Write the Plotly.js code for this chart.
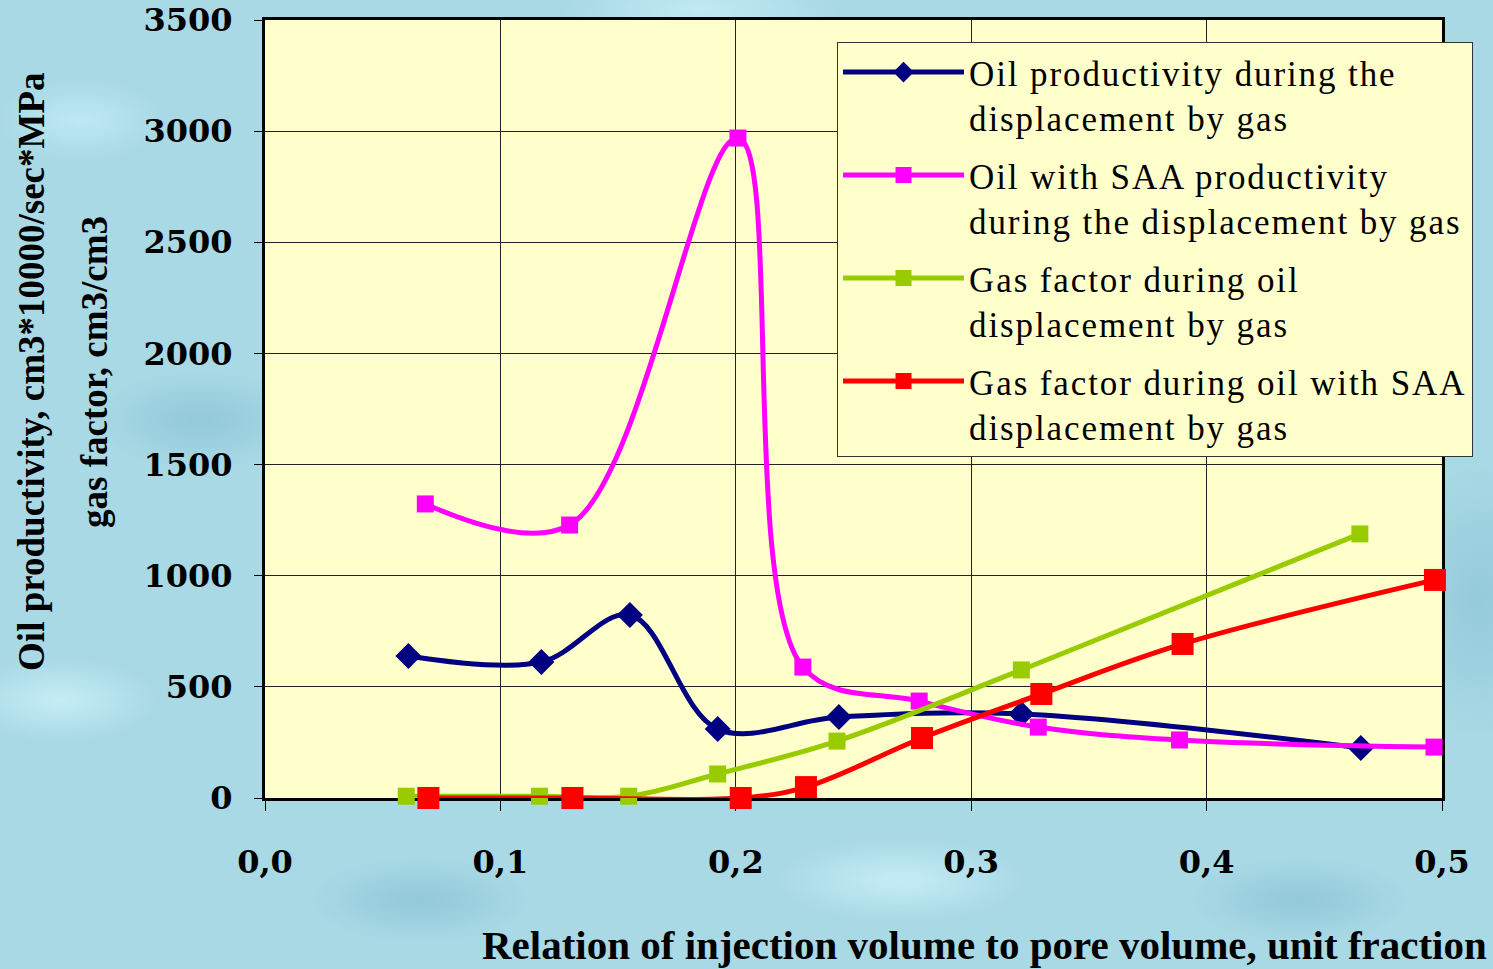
<!DOCTYPE html>
<html><head><meta charset="utf-8">
<script src="https://cdn.plot.ly/plotly-3.0.1.min.js"></script>
<style>
html,body{margin:0;padding:0;width:1493px;height:969px;overflow:hidden;}
body{
  background-color:#A8D9E5;
  background-image:
    radial-gradient(ellipse 120px 60px at 80px 120px, rgba(200,240,250,0.7), rgba(200,240,250,0) 70%),
    radial-gradient(ellipse 150px 70px at 200px 420px, rgba(120,180,200,0.45), rgba(120,180,200,0) 70%),
    radial-gradient(ellipse 140px 60px at 60px 700px, rgba(210,245,252,0.7), rgba(210,245,252,0) 70%),
    radial-gradient(ellipse 160px 60px at 420px 900px, rgba(120,180,200,0.45), rgba(120,180,200,0) 70%),
    radial-gradient(ellipse 180px 60px at 900px 880px, rgba(210,245,252,0.7), rgba(210,245,252,0) 70%),
    radial-gradient(ellipse 160px 60px at 1300px 900px, rgba(120,180,200,0.45), rgba(120,180,200,0) 70%),
    radial-gradient(ellipse 200px 60px at 700px 10px, rgba(210,245,252,0.6), rgba(210,245,252,0) 70%),
    radial-gradient(ellipse 120px 200px at 1480px 600px, rgba(120,180,200,0.4), rgba(120,180,200,0) 70%);
}
#chart{width:1493px;height:969px;}
text.legendtext{letter-spacing:1.9px;}
</style></head><body><div id="chart"></div>
<script>
// Oil productivity during the displacement by gas
const oilX = [0.0609, 0.1174, 0.1550, 0.1923, 0.2438, 0.3213, 0.4655];
const oilY = [639, 612, 823, 310, 364, 378, 225];
// Oil with SAA productivity during the displacement by gas
const saaX = [0.0681, 0.1294, 0.2009, 0.2285, 0.2779, 0.3285, 0.3885, 0.4966];
const saaY = [1323, 1228, 2969, 589, 436, 319, 261, 229];
// Gas factor during oil displacement by gas
const gasX = [0.0600, 0.1166, 0.1545, 0.1923, 0.2430, 0.3213, 0.4651];
const gasY = [8, 8, 8, 108, 256, 576, 1188];
// Gas factor during oil with SAA displacement by gas
const gasSaaX = [0.0694, 0.1306, 0.2021, 0.2298, 0.2791, 0.3298, 0.3898, 0.4970];
const gasSaaY = [0, 0, 0, 49, 270, 468, 693, 981];

const names = [
  'Oil productivity during the<br>displacement by gas',
  'Oil with SAA productivity<br>during the displacement by gas',
  'Gas factor during oil<br>displacement by gas',
  'Gas factor during oil with SAA<br>displacement by gas'
];
const xTickVals = [0, 0.1, 0.2, 0.3, 0.4, 0.5];
const xTickText = ['0,0', '0,1', '0,2', '0,3', '0,4', '0,5'];
const yTickVals = [0, 500, 1000, 1500, 2000, 2500, 3000, 3500];

function tr(x, y, name, color, symbol, size, grp) {
  return {
    x: x, y: y, name: name, type: 'scatter', mode: 'lines+markers',
    line: {color: color, width: 5, shape: 'spline', smoothing: 1},
    marker: {color: color, symbol: symbol, size: size},
    cliponaxis: false, legendgroup: grp
  };
}
const data = [
  tr(oilX, oilY, names[0], '#000080', 'diamond', 20, 'a'),
  tr(saaX, saaY, names[1], '#FF00FF', 'square', 17, 'b'),
  tr(gasX, gasY, names[2], '#99CC00', 'square', 17, 'c'),
  tr(gasSaaX, gasSaaY, names[3], '#FF0000', 'square', 22, 'd')
];

const tickFont = {family: 'DejaVu Serif', size: 32, color: '#000', weight: 'bold'};
const titleFont = {family: 'Liberation Serif', size: 37, color: '#000', weight: 'bold'};
const layout = {
  width: 1493, height: 969,
  paper_bgcolor: 'rgba(0,0,0,0)',
  plot_bgcolor: '#FFFFCC',
  margin: {l: 265, r: 51, t: 20, b: 171},
  showlegend: true,
  xaxis: {
    range: [0, 0.5], tickvals: xTickVals, ticktext: xTickText,
    showgrid: true, gridcolor: '#222', gridwidth: 1,
    showline: true, linecolor: '#000', linewidth: 3, mirror: true,
    ticks: 'outside', ticklen: 10, tickwidth: 1, tickcolor: '#000',
    tickfont: tickFont, ticklabelstandoff: 24, zeroline: false,
    layer: 'below traces'
  },
  yaxis: {
    range: [0, 3500], tickvals: yTickVals,
    showgrid: true, gridcolor: '#222', gridwidth: 1,
    showline: true, linecolor: '#000', linewidth: 3, mirror: true,
    ticks: 'outside', ticklen: 8, tickwidth: 1, tickcolor: '#000',
    tickfont: tickFont, ticklabelstandoff: 15, zeroline: false,
    layer: 'below traces'
  },
  legend: {
    x: 0.486, y: 0.972, xanchor: 'left', yanchor: 'top',
    bgcolor: '#FFFFCC', bordercolor: '#333', borderwidth: 1,
    font: {family: 'Liberation Serif', size: 35, color: '#000'},
    itemwidth: 121, tracegroupgap: 9, traceorder: 'grouped', valign: 'top'
  },
  annotations: [
    {text: 'Oil productivity, cm3*10000/sec*MPa', xref: 'paper', yref: 'paper',
     x: -0.198, y: 0.5476, xanchor: 'center', yanchor: 'middle', textangle: -90, showarrow: false,
     font: titleFont},
    {text: 'gas factor, cm3/cm3', xref: 'paper', yref: 'paper',
     x: -0.1444, y: 0.5476, xanchor: 'center', yanchor: 'middle', textangle: -90, showarrow: false,
     font: titleFont},
    {text: 'Relation of injection volume to pore volume, unit fraction', xref: 'paper', yref: 'paper',
     x: 0.6117, y: -0.189, xanchor: 'center', yanchor: 'middle', showarrow: false,
     font: {family: 'Liberation Serif', size: 41, color: '#000', weight: 'bold'}}
  ]
};
Plotly.newPlot('chart', data, layout, {displayModeBar: false, staticPlot: true});
</script></body></html>
